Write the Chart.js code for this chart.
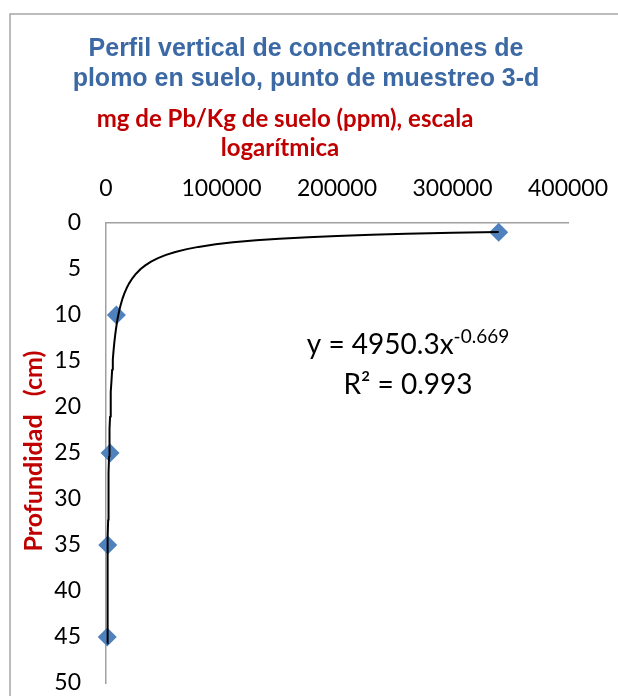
<!DOCTYPE html>
<html>
<head>
<meta charset="utf-8">
<script src="https://cdn.jsdelivr.net/npm/chart.js@4"></script>
<style>
  html, body { margin: 0; padding: 0; background: #fff; }
  canvas { display: block; }
</style>
</head>
<body>
<canvas id="grafica" width="618" height="696"></canvas>
<script>
// concentración de Pb (mg/Kg) y profundidad (cm), punto 3-d
const concentracion = [340000, 9000, 3500, 1500, 1100];
const profundidad = [1, 10, 25, 35, 45];

// marcas de los ejes
const ticksX = [0, 100000, 200000, 300000, 400000];
const ticksY = [0, 5, 10, 15, 20, 25, 30, 35, 40, 45, 50];

// línea de tendencia potencial, tal como la da la gráfica: y = a * x^b
const coefA = 4950.3;
const expB = -0.669;
const r2 = 0.993;
const xTendencia = [1100, 1175, 1250, 1350, 1450, 1575, 1700, 1850, 2000, 2200, 2400, 2650, 2900,
  3200, 3500, 3900, 4300, 4800, 5300, 5900, 6500, 7200, 8000, 9000, 10000, 11200, 12500, 14200,
  16000, 18000, 20000, 23000, 26000, 30000, 34000, 39000, 45000, 52000, 60000, 70000, 80000,
  95000, 110000, 130000, 150000, 175000, 200000, 230000, 260000, 300000, 340000];

const titulo = ["Perfil vertical de concentraciones de", "plomo en suelo, punto de muestreo 3-d"];
const tituloX = ["mg de Pb/Kg de suelo (ppm), escala", "logarítmica"];
const tituloY = "Profundidad   (cm)";

const textos = {
  id: "textos",
  beforeDraw(chart) {
    const ctx = chart.ctx;
    ctx.save();
    ctx.strokeStyle = "#a6a6a6";
    ctx.lineWidth = 1.5;
    ctx.strokeRect(10, 14, 700, 800);
    ctx.restore();
  },
  afterDraw(chart) {
    const ctx = chart.ctx;
    ctx.save();
    ctx.textAlign = "center";
    ctx.textBaseline = "alphabetic";

    // título
    ctx.fillStyle = "#3C69A4";
    ctx.font = 'bold 25px "Liberation Sans"';
    ctx.fillText(titulo[0], 306, 56);
    ctx.fillText(titulo[1], 306, 86);

    // título eje x
    ctx.fillStyle = "#C00000";
    ctx.font = "bold 24px Lato";
    ctx.fillText(tituloX[0], 285, 127);
    ctx.fillText(tituloX[1], 280, 156);

    // título eje y
    ctx.save();
    ctx.font = "bold 25px Lato";
    ctx.translate(42, 451);
    ctx.rotate(-Math.PI / 2);
    ctx.fillText(tituloY, 0, 0);
    ctx.restore();

    // ecuación
    ctx.fillStyle = "#000";
    const base = "y = " + coefA + "x";
    const sup = expB.toFixed(3);
    ctx.font = "28px Lato";
    const w1 = ctx.measureText(base).width;
    ctx.font = "19px Lato";
    const w2 = ctx.measureText(sup).width;
    const x0 = 408 - (w1 + w2) / 2;
    ctx.textAlign = "left";
    ctx.font = "28px Lato";
    ctx.fillText(base, x0, 354);
    ctx.font = "19px Lato";
    ctx.fillText(sup, x0 + w1, 343);
    ctx.textAlign = "center";
    ctx.font = "28px Lato";
    ctx.fillText("R\u00b2 = " + r2, 408, 394);
    ctx.restore();
  }
};

const sinRelleno = s => {
  s.paddingLeft = 0;
  s.paddingRight = 0;
  s.paddingTop = 0;
  s.paddingBottom = 0;
};

new Chart(document.getElementById("grafica"), {
  type: "scatter",
  data: {
    datasets: [
      {
        label: "Tendencia",
        data: xTendencia.map(x => ({ x: x, y: coefA * Math.pow(x, expB) })),
        showLine: true,
        pointRadius: 0,
        borderColor: "#000",
        borderWidth: 2,
        borderJoinStyle: "round",
        order: 0,
        clip: false
      },
      {
        label: "Pb",
        data: concentracion.map((x, i) => ({ x: x, y: profundidad[i] })),
        pointStyle: "rectRot",
        pointRadius: 9.5,
        backgroundColor: "#4F81BD",
        borderColor: "#4F81BD",
        borderWidth: 0,
        order: 1,
        clip: false
      }
    ]
  },
  options: {
    responsive: false,
    animation: false,
    layout: { padding: { left: 0, top: 0, right: 50, bottom: 13 } },
    plugins: { legend: { display: false }, tooltip: { enabled: false } },
    scales: {
      x: {
        type: "linear",
        position: "top",
        min: ticksX[0],
        max: ticksX[ticksX.length - 1],
        afterBuildTicks: s => { s.ticks = ticksX.map(v => ({ value: v })); },
        afterFit: s => { s.height = 223; sinRelleno(s); },
        grid: { display: false, drawTicks: false },
        border: { display: true, color: "#a0a0a0", width: 1.5 },
        ticks: {
          color: "#000",
          font: { family: "Lato", size: 23 },
          padding: 21,
          maxRotation: 0,
          autoSkip: false,
          callback: v => String(v)
        }
      },
      y: {
        type: "linear",
        reverse: true,
        min: ticksY[0],
        max: ticksY[ticksY.length - 1],
        afterBuildTicks: s => { s.ticks = ticksY.map(v => ({ value: v })); },
        afterFit: s => { s.width = 106; sinRelleno(s); },
        grid: { display: false, drawTicks: false },
        border: { display: true, color: "#a0a0a0", width: 1.5 },
        ticks: {
          color: "#000",
          font: { family: "Lato", size: 23 },
          padding: 25,
          autoSkip: false,
          callback: v => String(v)
        }
      }
    }
  },
  plugins: [textos]
});
</script>
</body>
</html>
